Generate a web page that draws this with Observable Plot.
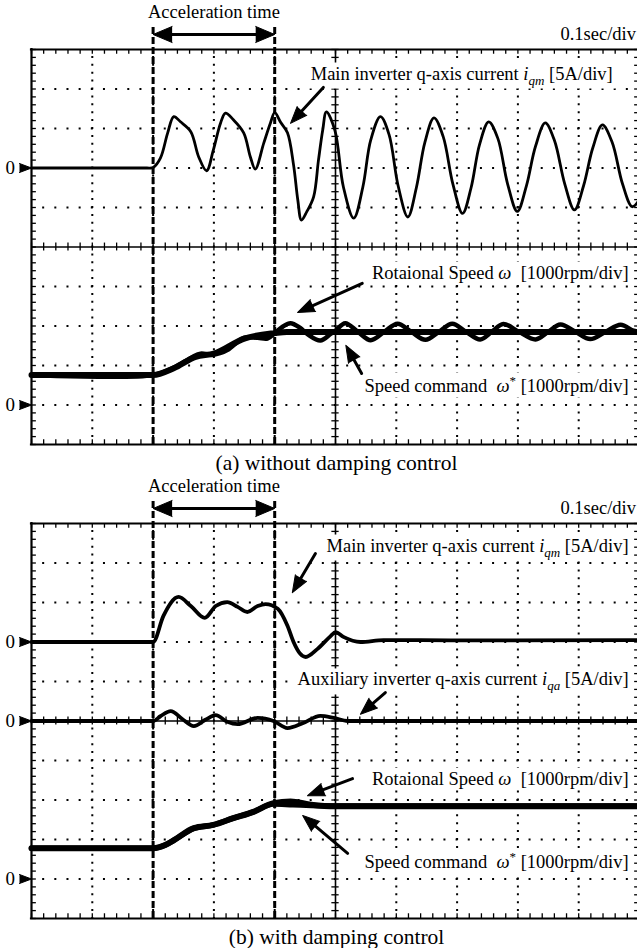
<!DOCTYPE html>
<html><head><meta charset="utf-8">
<script src="https://cdn.jsdelivr.net/npm/d3@7"></script>
<script src="https://cdn.jsdelivr.net/npm/@observablehq/plot@0.6"></script>
<style>
body{margin:0;background:#fff;}
#wrap{width:637px;overflow:hidden;}
.cap{width:637px;height:22px;line-height:22px;font-family:"Liberation Serif",serif;font-size:21.5px;text-align:center;padding-left:36px;box-sizing:border-box;white-space:nowrap;color:#000;}
</style></head><body><div id="wrap"></div>
<script>
// ---------- data (time in divisions of 0.1 s, value in divisions) ----------
const gridLines = [1,2,3,4,6,7,8,9];
const accelTimes = [2,4];
const minorTicks = d3.range(0, 10.001, 0.2);

// (a) without damping control
const iqmA = [[0,0],[1,0],[1.9,0],[1.97,0],[2.0,0.01],[2.12,0.25],[2.24,0.89],[2.34,1.30],[2.45,1.17],[2.62,0.92],[2.75,0.28],[2.88,-0.07],[2.99,0.45],[3.11,1.14],[3.19,1.39],[3.32,1.22],[3.49,0.89],[3.60,0.28],[3.68,-0.03],[3.82,0.63],[3.93,1.14],[4.00,1.40],[4.10,1.15],[4.21,0.89],[4.31,0.08],[4.38,-0.81],[4.44,-1.32],[4.53,-1.10],[4.64,-0.73],[4.72,0.2],[4.79,0.96],[4.85,1.42],[4.99,0.95],[5.13,-0.48],[5.30,-1.27],[5.45,-0.48],[5.58,0.71],[5.74,1.30],[5.88,0.85],[6.03,-0.45],[6.19,-1.24],[6.33,-0.5],[6.47,0.65],[6.62,1.27],[6.77,0.8],[6.93,-0.4],[7.09,-1.15],[7.23,-0.5],[7.37,0.6],[7.52,1.17],[7.67,0.75],[7.83,-0.4],[7.99,-1.10],[8.14,-0.45],[8.29,0.55],[8.45,1.14],[8.60,0.7],[8.77,-0.4],[8.93,-1.06],[9.08,-0.45],[9.23,0.5],[9.39,1.09],[9.55,0.65],[9.72,-0.4],[9.88,-0.98],[10.0,-0.8]];
const speedA = [[0,0.76],[2.0,0.76],[2.34,0.95],[2.64,1.21],[2.78,1.30],[2.99,1.27],[3.22,1.39],[3.49,1.70],[3.72,1.70],[3.88,1.68],[4.0,1.82],[4.13,1.98],[4.26,2.07],[4.42,1.95],[4.55,1.78],[4.75,1.63],[4.92,1.80],[5.0,1.88],[5.16,2.07],[5.37,1.85],[5.58,1.64],[5.8,1.85],[6.02,2.06],[6.25,1.85],[6.48,1.65],[6.7,1.85],[6.92,2.06],[7.15,1.85],[7.38,1.66],[7.57,1.85],[7.76,2.05],[8.02,1.85],[8.29,1.66],[8.5,1.85],[8.70,2.04],[8.95,1.85],[9.19,1.67],[9.44,1.85],[9.69,2.03],[9.9,1.88],[10,1.85]];
const cmdA = [[0,0.76],[2.0,0.76],[2.34,0.93],[2.7,1.22],[3.0,1.30],[3.5,1.68],[4.0,1.82],[4.2,1.85],[10,1.85]];

// (b) with damping control
const iqmB = [[0,0],[1,0],[2.0,0],[2.17,0.66],[2.42,1.14],[2.62,0.91],[2.85,0.61],[3.03,0.91],[3.22,1.01],[3.39,0.89],[3.55,0.76],[3.72,0.91],[3.85,0.96],[4.05,0.84],[4.21,0.41],[4.31,0.0],[4.42,-0.30],[4.51,-0.38],[4.70,-0.18],[4.92,0.15],[5.0,0.25],[5.13,0.13],[5.41,0.0],[5.79,0.05],[7,0.04],[10,0.05]];
const iqaB = [[0,0],[1,0],[2.0,0],[2.12,0.12],[2.29,0.25],[2.48,0.05],[2.67,-0.13],[2.86,0.03],[3.03,0.15],[3.22,-0.02],[3.39,-0.08],[3.72,0.08],[3.98,0.0],[4.21,-0.18],[4.47,-0.05],[4.75,0.13],[4.97,0.08],[5.2,0.0],[7,0.0],[10,0.0]];
const speedB = [[0,0.78],[2.0,0.78],[2.2,0.86],[2.35,0.99],[2.67,1.29],[2.99,1.37],[3.32,1.54],[3.65,1.70],[3.98,1.92],[4.26,1.96],[4.6,1.88],[5.0,1.84],[10,1.84]];
const cmdB = [[0,0.78],[2.0,0.78],[2.2,0.86],[2.35,0.99],[2.67,1.28],[2.99,1.37],[3.32,1.54],[3.65,1.70],[3.98,1.90],[4.3,1.88],[5.0,1.85],[10,1.85]];

// labels
const mainParts = [["Main inverter q-axis current ",""],["i","i"],["qm","sub"],[" [5A/div]",""]];
const auxParts = [["Auxiliary inverter q-axis current ",""],["i","i"],["qa","sub"],[" [5A/div]",""]];
const rotParts = [["Rotaional Speed ",""],["ω","i"],["  [1000rpm/div]",""]];
const cmdParts = [["Speed command  ",""],["ω","i"],["*","sup"],[" [1000rpm/div]",""]];
const captions = ["(a) without damping control","(b) with damping control"];

// ---------- layout ----------
const W = 637, H = 452;
const X_RANGE = [31, 639], Y_RANGE = [444, 49];
const PXX = (X_RANGE[1]-X_RANGE[0])/10, PXY = (Y_RANGE[0]-Y_RANGE[1])/10;
const FONT = "Liberation Serif";
const NS = "http://www.w3.org/2000/svg";

function headRotate(a){ return Math.atan2((a.x2-a.x1)*PXX, (a.y2-a.y1)*PXY)*180/Math.PI; }
const plain = parts => parts.map(p=>p[0]).join("");
const toRows = (arr, off) => arr.map(([t,v]) => ({t, v: v + off}));

function enrich(svg, labels){
  svg.querySelectorAll("text").forEach(t=>{
    const lab = labels.find(l=>plain(l.parts)===t.textContent);
    if(!lab) return;
    t.textContent = "";
    let cur = 0;
    for (const [s, kind] of lab.parts){
      const ts = document.createElementNS(NS,"tspan");
      ts.textContent = s;
      let target = 0;
      if (kind==="i") ts.setAttribute("font-style","italic");
      if (kind==="sub"){ ts.setAttribute("font-style","italic"); ts.setAttribute("font-size","13px"); target = 5; }
      if (kind==="sup"){ ts.setAttribute("font-size","13px"); target = -7; }
      if (target !== cur) ts.setAttribute("dy", (target-cur)+"px");
      cur = target;
      t.appendChild(ts);
    }
    // white box behind the label, as on the scope screenshot
    const b = t.getBBox();
    const r = document.createElementNS(NS,"rect");
    r.setAttribute("x", b.x-3); r.setAttribute("y", b.y-1);
    r.setAttribute("width", b.width+6); r.setAttribute("height", b.height+2);
    r.setAttribute("fill","white"); r.setAttribute("stroke","none");
    if (t.getAttribute("transform")) r.setAttribute("transform", t.getAttribute("transform"));
    t.parentNode.insertBefore(r, t);
  });
}

function panel(cfg){
  const arrowRows = cfg.arrows;
  const accelArrow = [{x1:3,y1:10.38,x2:2,y2:10.38},{x1:3,y1:10.38,x2:4,y2:10.38}];
  const marks = [
    // dotted graticule
    Plot.ruleY(gridLines, {y:d=>d, x1:0, x2:10, stroke:"black", strokeWidth:2, strokeDasharray:`2,${PXX/5-2}`, strokeDashoffset:1}),
    Plot.ruleX(gridLines, {x:d=>d, y1:0, y2:10, stroke:"black", strokeWidth:2, strokeDasharray:`2,${PXY/5-2}`, strokeDashoffset:1}),
    // centre axes with minor ticks
    Plot.ruleX([5], {y1:0, y2:10, stroke:"black", strokeWidth:1.6}),
    Plot.ruleY([5], {x1:0, x2:10, stroke:"black", strokeWidth:1.6}),
    Plot.ruleY(minorTicks, {y:d=>d, x1:4.94, x2:5.06, stroke:"black", strokeWidth:1.3}),
    Plot.ruleX(minorTicks, {x:d=>d, y1:4.9, y2:5.1, stroke:"black", strokeWidth:1.3}),
    // frame ticks
    Plot.ruleY(minorTicks, {y:d=>d, x1:0, x2:0.08, stroke:"black", strokeWidth:1.3}),
    Plot.ruleY(minorTicks, {y:d=>d, x1:9.92, x2:10, stroke:"black", strokeWidth:1.3}),
    Plot.ruleX(minorTicks, {x:d=>d, y1:0, y2:0.12, stroke:"black", strokeWidth:1.3}),
    Plot.ruleX(minorTicks, {x:d=>d, y1:9.88, y2:10, stroke:"black", strokeWidth:1.3}),
    // frame
    Plot.ruleX([0,10], {y1:0, y2:10, stroke:"black", strokeWidth:2.2, strokeLinecap:"square"}),
    Plot.ruleY([0,10], {x1:0, x2:10, stroke:"black", strokeWidth:2.2, strokeLinecap:"square"}),
    // acceleration interval
    Plot.ruleX(accelTimes, {x:d=>d, y1:0, y2:10.61, stroke:"black", strokeWidth:3, strokeDasharray:"7,3"}),
    Plot.arrow(accelArrow, {x1:"x1", y1:"y1", x2:"x2", y2:"y2", insetEnd:12, headLength:0, stroke:"black", strokeWidth:3}),
    Plot.vector(accelArrow, {x:"x2", y:"y2", rotate:d=>headRotate(d), length:19, r:8, anchor:"end", shape:"spike", fill:"black", stroke:"black", strokeWidth:1}),
    Plot.text(["Acceleration time"], {x:3, y:10.94, text:d=>d, fontSize:18.5, fill:"black"}),
    Plot.text(["0.1sec/div"], {x:8.7, y:10.4, text:d=>d, fontSize:18.5, textAnchor:"start", fill:"black"}),
    // zero markers
    Plot.text(cfg.zeros, {x:-0.35, y:d=>d, text:()=>"0", fontSize:19, fill:"black"}),
    Plot.vector(cfg.zeros, {x:0, y:d=>d, rotate:90, length:12, r:4.5, anchor:"end", shape:"spike", fill:"black", stroke:"black", strokeWidth:1}),
  ];
  for (const tr of cfg.traces){
    marks.push(Plot.line(tr.rows, {x:"t", y:"v", curve:tr.curve, stroke:"black", strokeWidth:tr.w, strokeLinejoin:"round", strokeLinecap:"round"}));
  }
  marks.push(
    Plot.text(cfg.labels, {x:"x", y:"y", text:d=>plain(d.parts), textAnchor:"end", fontSize:18.5, fill:"black"}),
    Plot.arrow(arrowRows, {x1:"x1", y1:"y1", x2:"x2", y2:"y2", insetEnd:12, headLength:0, stroke:"black", strokeWidth:3}),
    Plot.vector(arrowRows, {x:"x2", y:"y2", rotate:d=>headRotate(d), length:17, r:6.5, anchor:"end", shape:"spike", fill:"black", stroke:"black", strokeWidth:1})
  );
  return Plot.plot({
    width: W, height: H,
    marginLeft: 31, marginRight: 0, marginTop: 49, marginBottom: 8,
    x: {domain:[0,10], range:X_RANGE, axis:null},
    y: {domain:[0,10], range:Y_RANGE, axis:null},
    style: {fontFamily: FONT, fontSize: "18.5px", background: "white", color: "black"},
    marks
  });
}

const wrap = document.getElementById("wrap");

const cfgA = {
  zeros: [7, 1],
  traces: [
    {rows: toRows(iqmA, 7), w: 2.8, curve: "catmull-rom"},
    {rows: toRows(cmdA, 1), w: 6, curve: "monotone-x"},
    {rows: toRows(speedA, 1), w: 4.5, curve: "catmull-rom"}
  ],
  labels: [
    {x:9.56, y:9.39, parts: mainParts},
    {x:9.82, y:4.35, parts: rotParts},
    {x:9.82, y:1.47, parts: cmdParts}
  ],
  arrows: [
    {x1:4.80, y1:9.04, x2:4.26, y2:8.13},
    {x1:5.44, y1:4.08, x2:4.375, y2:3.34},
    {x1:5.43, y1:1.80, x2:5.17, y2:2.51}
  ]
};
const svgA = panel(cfgA);
wrap.appendChild(svgA);
enrich(svgA, cfgA.labels);
const capA = document.createElement("div"); capA.className = "cap"; capA.textContent = captions[0];
wrap.appendChild(capA);

const cfgB = {
  zeros: [7, 5, 1],
  traces: [
    {rows: toRows(iqmB, 7), w: 3.8, curve: "monotone-x"},
    {rows: toRows(iqaB, 5), w: 3.8, curve: "monotone-x"},
    {rows: toRows(cmdB, 1), w: 5.5, curve: "monotone-x"},
    {rows: toRows(speedB, 1), w: 6, curve: "monotone-x"}
  ],
  labels: [
    {x:9.82, y:9.44, parts: mainParts},
    {x:9.82, y:6.05, parts: auxParts},
    {x:9.82, y:3.54, parts: rotParts},
    {x:9.82, y:1.42, parts: cmdParts}
  ],
  arrows: [
    {x1:4.67, y1:9.24, x2:4.29, y2:8.25},
    {x1:5.82, y1:5.72, x2:5.41, y2:5.17},
    {x1:5.28, y1:3.54, x2:4.54, y2:3.11},
    {x1:5.20, y1:1.65, x2:4.46, y2:2.61}
  ]
};
const svgB = panel(cfgB);
wrap.appendChild(svgB);
enrich(svgB, cfgB.labels);
const capB = document.createElement("div"); capB.className = "cap"; capB.textContent = captions[1];
wrap.appendChild(capB);
</script>
</body></html>
